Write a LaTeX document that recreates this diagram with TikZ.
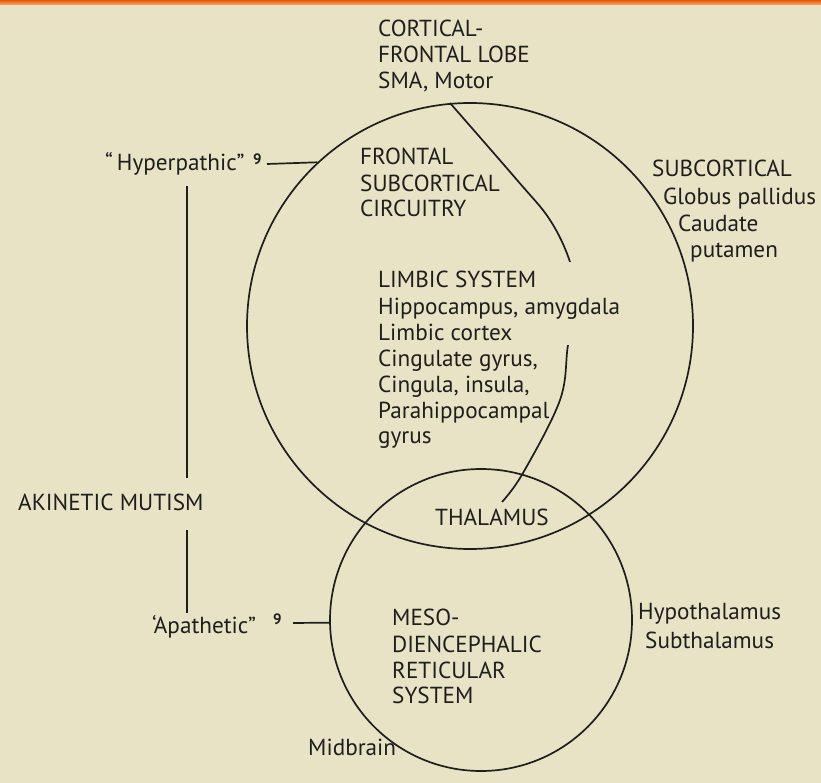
\documentclass[tikz,border=0pt]{standalone}
\usepackage{fontspec}
\setmainfont{PT Sans}
\definecolor{bg}{HTML}{E8E3C5}
\definecolor{ink}{HTML}{1E1E1E}
\definecolor{orngA}{HTML}{E85A08}
\definecolor{orngB}{HTML}{F8A060}
\begin{document}
\begin{tikzpicture}[x=1pt,y=-1pt,
  lbl/.style={anchor=base west, inner sep=0pt, text=ink, font=\fontsize{23.2}{26}\selectfont},
  sup/.style={anchor=base west, inner sep=0pt, text=ink, font=\fontsize{15}{16}\selectfont\bfseries},
  ln/.style={draw=ink, line width=1.7pt},
  ring/.style={ln, circle, inner sep=0pt, fill=none}]
\useasboundingbox (0,0) rectangle (821,783);
\fill[bg] (0,0) rectangle (821,783);
\shade[top color=orngA, bottom color=orngB] (0,0) rectangle (821,4.5);

% circles
\node[ring, minimum size=446pt] (big) at (470,326) {};
\node[ring, minimum size=302pt] (small) at (481,620) {};

% inner arc with gap
\begin{scope}
\clip (380,95) rectangle (640,262);
\draw[ln] plot[smooth, tension=0.6] coordinates {(450,103) (517,180) (550,220) (570,262) (577,303) (568,345) (560,400) (523,473) (502,502)};
\end{scope}
\begin{scope}
\clip (380,345) rectangle (640,520);
\draw[ln] plot[smooth, tension=0.6] coordinates {(450,103) (517,180) (550,220) (570,262) (577,303) (568,345) (560,400) (523,473) (502,502)};
\end{scope}

% top block
\node[lbl] (c1) at (378,37) {CORTICAL-};
\node[lbl] (c2) at (378,63) {FRONTAL LOBE};
\node[lbl] (c3) at (378,89) {SMA, Motor};

% left side
\node[lbl] (hyp) at (105,171) {“\,Hyperpathic”};
\node[sup] (hyp9) at (253,165) {9};
\coordinate (hypend) at (267,164);
\draw[ln] (hypend) -- (big.133.4);

\coordinate (v1) at (187,186);
\coordinate (v2) at (187,478);
\coordinate (v3) at (187,530);
\coordinate (v4) at (187,613);
\draw[ln] (v1) -- (v2);
\draw[ln] (v3) -- (v4);

\node[lbl] (aki) at (18,510) {AKINETIC MUTISM};

\node[lbl] (apa) at (152,633) {‘Apathetic”};
\node[sup] (apa9) at (273,624) {9};
\coordinate (apaend) at (293,623);
\draw[ln] (apaend) -- (small.181.1);

% frontal subcortical
\node[lbl] (f1) at (360,165) {FRONTAL};
\node[lbl] (f2) at (360,192) {SUBCORTICAL};
\node[lbl] (f3) at (360,217) {CIRCUITRY};

% limbic
\node[lbl] (l1) at (378,288) {LIMBIC SYSTEM};
\node[lbl] (l2) at (378,314) {Hippocampus, amygdala};
\node[lbl] (l3) at (378,340) {Limbic cortex};
\node[lbl] (l4) at (378,366) {Cingulate gyrus,};
\node[lbl] (l5) at (378,392) {Cingula, insula,};
\node[lbl] (l6) at (378,418) {Parahippocampal};
\node[lbl] (l7) at (378,443) {gyrus};

% subcortical right
\node[lbl] (s1) at (652,177) {SUBCORTICAL};
\node[lbl] (s2) at (663,205) {Globus pallidus};
\node[lbl] (s3) at (678,232) {Caudate};
\node[lbl] (s4) at (690,258) {putamen};

% thalamus
\node[lbl] (thal) at (435,525) {THALAMUS};

% meso
\node[lbl] (m1) at (392,625) {MESO-};
\node[lbl] (m2) at (392,652) {DIENCEPHALIC};
\node[lbl] (m3) at (392,678) {RETICULAR};
\node[lbl] (m4) at (392,703) {SYSTEM};

\node[lbl] (h1) at (638,619) {Hypothalamus};
\node[lbl] (h2) at (645,648) {Subthalamus};

\node[lbl] (mid) at (308,755) {Midbrain};
\end{tikzpicture}
\end{document}
